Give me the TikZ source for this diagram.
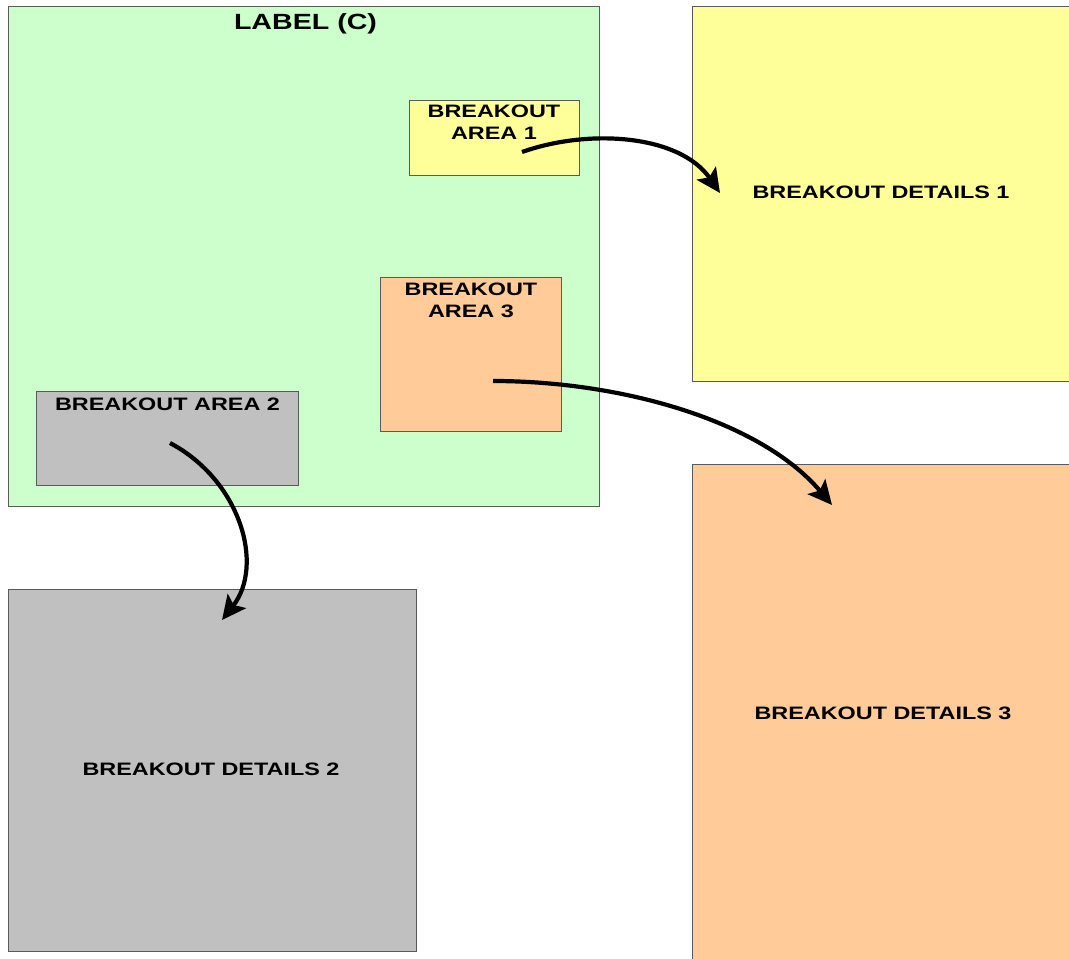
\documentclass[tikz,border=0pt]{standalone}
\usepackage{fontspec}
\setmainfont{Liberation Sans}[FakeStretch=1.3]
\usetikzlibrary{arrows.meta}
\definecolor{cgreen}{HTML}{CCFFCC}
\definecolor{cyellow}{HTML}{FFFF99}
\definecolor{corange}{HTML}{FFCC99}
\definecolor{cgray}{HTML}{C0C0C0}
\definecolor{cborder}{HTML}{5A5A5A}
\begin{document}
\begin{tikzpicture}[x=1pt,y=-1pt,
  box/.style={draw=cborder, line width=0.8pt, rectangle, inner sep=0pt},
  lbl/.style={inner sep=0pt, align=center, font=\bfseries\fontsize{18}{21.5}\selectfont},
  conn/.style={line width=4.2pt, -{Stealth[length=24pt,width=23pt,inset=5pt]}}]
\useasboundingbox (0,0) rectangle (1069,959);
\clip (0,0) rectangle (1069,959);
% main green area
\node[box, fill=cgreen, minimum width=591pt, minimum height=500pt] (main) at (303.5,256) {};
\node[inner sep=0pt, anchor=north, font=\bfseries\fontsize{22}{26}\selectfont] (mainlbl) at (305.5,13) {LABEL (C)};
% detail boxes
\node[box, fill=cyellow, minimum width=380pt, minimum height=375pt] (det1) at (882,193.5) {};
\node[lbl] (det1lbl) at (881,192.5) {BREAKOUT DETAILS 1};
\node[box, fill=cgray, minimum width=408pt, minimum height=362pt] (det2) at (212,770) {};
\node[lbl] (det2lbl) at (211,769) {BREAKOUT DETAILS 2};
\node[box, fill=corange, minimum width=380pt, minimum height=498pt] (det3) at (882,713) {};
\node[lbl] (det3lbl) at (883,713) {BREAKOUT DETAILS 3};
% breakout areas
\node[box, fill=cyellow, minimum width=170pt, minimum height=75pt] (area1) at (494,137.5) {};
\node[lbl, anchor=north] (area1lbl) at (494,105) {BREAKOUT\\AREA 1};
\node[box, fill=corange, minimum width=181pt, minimum height=154pt] (area3) at (470.5,354) {};
\node[lbl, anchor=north] (area3lbl) at (471,283) {BREAKOUT\\AREA 3};
\node[box, fill=cgray, minimum width=262pt, minimum height=94pt] (area2) at (167,438) {};
\node[lbl, anchor=north] (area2lbl) at (167.5,398) {BREAKOUT AREA 2};
% connector end points
\coordinate (s1) at (522,152);
\coordinate (e1) at (720,193);
\coordinate (s2) at (170,443);
\coordinate (e2) at (222,620);
\coordinate (s3) at (493,381);
\coordinate (e3) at (832,505);
\draw[conn] (s1) .. controls (590,128) and (680,135) .. (e1);
\draw[conn] (s2) .. controls (240,480) and (265,565) .. (e2);
\draw[conn] (s3) .. controls (620,381) and (760,420) .. (e3);
\end{tikzpicture}
\end{document}
